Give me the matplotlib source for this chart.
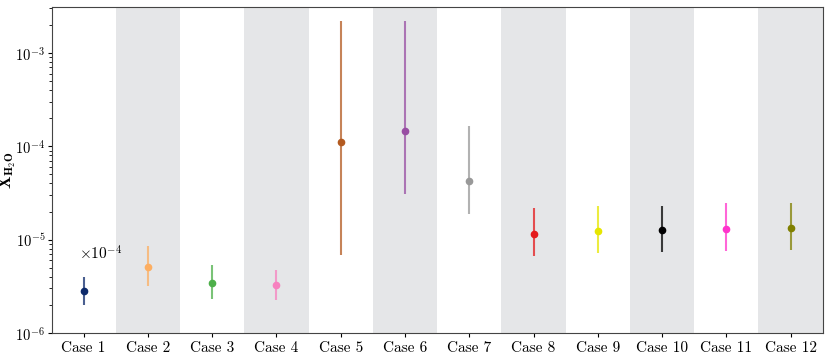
import matplotlib
matplotlib.use("Agg")
import matplotlib.pyplot as plt
from matplotlib.ticker import FixedLocator

plt.rcParams['font.family'] = 'serif'
plt.rcParams['font.serif'] = ['cmr10', 'DejaVu Serif']
plt.rcParams['mathtext.fontset'] = 'cm'
plt.rcParams['axes.formatter.use_mathtext'] = True

cases = ["Case %d" % i for i in range(1, 13)]
# median and upper / lower ends of the error bars
med = [2.8e-6, 5.1e-6, 3.45e-6, 3.25e-6, 1.1e-4, 1.45e-4,
       4.2e-5, 1.15e-5, 1.23e-5, 1.27e-5, 1.31e-5, 1.33e-5]
upper = [4.0e-6, 8.5e-6, 5.3e-6, 4.7e-6, 2.2e-3, 2.2e-3,
         1.67e-4, 2.17e-5, 2.28e-5, 2.28e-5, 2.44e-5, 2.45e-5]
lower = [2.0e-6, 3.2e-6, 2.3e-6, 2.25e-6, 6.8e-6, 3.1e-5,
         1.87e-5, 6.7e-6, 7.2e-6, 7.35e-6, 7.6e-6, 7.7e-6]
colors = ['#0d2a6b', '#fdae61', '#4daf4a', '#f781bf', '#b35a20', '#984ea3',
          '#999999', '#e41a1c', '#e6e600', '#000000', '#ff33cc', '#808000']
yticks = [1e-6, 1e-5, 1e-4, 1e-3]

fig, ax = plt.subplots(figsize=(8.31, 3.55), dpi=100)
fig.subplots_adjust(left=0.062, right=0.99, top=0.98, bottom=0.062)

# shaded background for every second case
for i in range(len(cases)):
    if i % 2 == 1:
        ax.axvspan(i - 0.5, i + 0.5, color='#e5e6e8', lw=0, zorder=0)

for i in range(len(cases)):
    eb = ax.errorbar(i, med[i],
                     yerr=[[med[i] - lower[i]], [upper[i] - med[i]]],
                     fmt='o', color=colors[i], ms=4.5, elinewidth=1.5,
                     ecolor=colors[i], capsize=0, zorder=3)
    # bars a bit lighter than the marker
    for bl in eb[2]:
        bl.set_alpha(0.75)

ax.set_yscale('log')
ax.set_ylim(1e-6, 3.1e-3)
ax.set_xlim(-0.5, len(cases) - 0.5)
ax.set_xticks(range(len(cases)))
ax.set_xticklabels(cases, fontsize=11)
ax.yaxis.set_major_locator(FixedLocator(yticks))
ax.set_yticklabels([r'$\mathbf{10}^{\mathbf{-%d}}$' % -round(__import__('math').log10(t))
                    for t in yticks], fontsize=10.5)
ax.tick_params(axis='y', which='major', length=3, pad=1.5)
ax.tick_params(axis='y', which='minor', length=2)
ax.tick_params(axis='x', length=3, pad=3)
ax.set_ylabel(r'$\mathbf{X}_{\mathbf{H_2O}}$', fontsize=12)
ax.yaxis.set_label_coords(-0.043, 0.5)

for sp in ax.spines.values():
    sp.set_color('#444444')

ax.text(0.035, 0.245, r'$\times10^{-4}$', transform=ax.transAxes,
        fontsize=11, va='center', ha='left')

fig.savefig("out.png", dpi=100)
